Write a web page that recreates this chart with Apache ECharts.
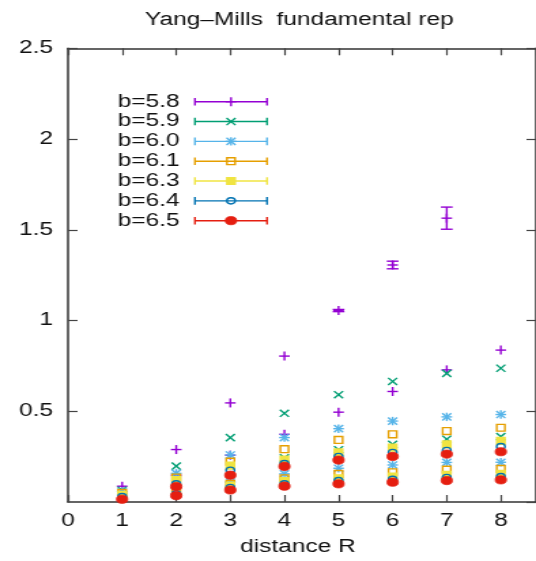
<!DOCTYPE html>
<html>
<head>
<meta charset="utf-8">
<script src="https://cdn.jsdelivr.net/npm/echarts@6/dist/echarts.min.js"></script>
<style>
  html, body { margin: 0; padding: 0; background: #fff; overflow: hidden; }
  #wrap { width: 536px; height: 561px; overflow: hidden; }
  /* the plot is laid out on a narrower canvas and widened, as in the original terminal output */
  #chart { width: 394px; height: 561px; transform: scaleX(1.3604); transform-origin: 0 0; }
</style>
</head>
<body>
<div id="wrap"><div id="chart"></div></div>
<script>
// ---- data: [R, V(R), error] per coupling ----
const betaLabels = ['b=5.8', 'b=5.9', 'b=6.0', 'b=6.1', 'b=6.3', 'b=6.4', 'b=6.5'];

const b58 = [[1, 0.087, 0], [2, 0.289, 0], [3, 0.546, 0], [4, 0.804, 0], [5, 1.055, 0.006], [6, 1.306, 0.021], [7, 1.564, 0.061],
             [2, 0.148, 0], [3, 0.258, 0], [4, 0.373, 0], [5, 0.495, 0], [6, 0.609, 0], [7, 0.728, 0], [8, 0.837, 0]];
const b59 = [[1, 0.065, 0], [2, 0.198, 0], [3, 0.355, 0], [4, 0.489, 0], [5, 0.591, 0], [6, 0.664, 0], [7, 0.709, 0], [8, 0.737, 0],
             [4, 0.243, 0], [5, 0.288, 0], [6, 0.318, 0], [7, 0.346, 0], [8, 0.360, 0]];
const b60 = [[1, 0.058, 0], [2, 0.158, 0], [3, 0.259, 0], [4, 0.355, 0], [5, 0.404, 0], [6, 0.446, 0], [7, 0.469, 0], [8, 0.482, 0],
             [3, 0.110, 0], [4, 0.155, 0], [5, 0.186, 0], [6, 0.204, 0], [7, 0.218, 0], [8, 0.219, 0]];
const b61 = [[1, 0.050, 0], [2, 0.135, 0], [3, 0.222, 0], [4, 0.291, 0], [5, 0.342, 0], [6, 0.373, 0], [7, 0.391, 0], [8, 0.409, 0],
             [2, 0.060, 0], [3, 0.100, 0], [4, 0.131, 0], [5, 0.155, 0], [6, 0.164, 0], [7, 0.178, 0], [8, 0.182, 0]];
const b63 = [[1, 0.040, 0], [2, 0.120, 0], [3, 0.200, 0], [4, 0.233, 0], [5, 0.273, 0], [6, 0.300, 0], [7, 0.318, 0], [8, 0.337, 0],
             [3, 0.090, 0], [4, 0.115, 0], [5, 0.131, 0], [6, 0.140, 0], [7, 0.150, 0], [8, 0.155, 0]];
const b64 = [[1, 0.030, 0], [2, 0.100, 0], [3, 0.175, 0], [4, 0.212, 0], [5, 0.251, 0], [6, 0.273, 0], [7, 0.284, 0], [8, 0.305, 0],
             [2, 0.045, 0], [3, 0.080, 0], [4, 0.100, 0], [5, 0.118, 0], [6, 0.125, 0], [7, 0.135, 0], [8, 0.140, 0]];
const b65 = [[1, 0.015, 0], [2, 0.085, 0], [3, 0.148, 0], [4, 0.196, 0], [5, 0.231, 0], [6, 0.251, 0], [7, 0.264, 0], [8, 0.277, 0],
             [2, 0.035, 0], [3, 0.066, 0], [4, 0.087, 0], [5, 0.100, 0], [6, 0.109, 0], [7, 0.118, 0], [8, 0.122, 0]];

const xTicks = [0, 1, 2, 3, 4, 5, 6, 7, 8];
const yTicks = [0.5, 1, 1.5, 2, 2.5];

// ---- styling ----
const seriesData = [b58, b59, b60, b61, b63, b64, b65];
const colors = ['#9400d3', '#009e73', '#56b4e9', '#e69f00', '#f0e442', '#0072b2', '#e51e10'];
const markers = ['plus', 'cross', 'star', 'openSquare', 'square', 'openCircle', 'circle'];
const FONT = '"Liberation Sans", Arial, Helvetica, sans-serif';
const LW = 1.4;

function seg(x1, y1, x2, y2, color) {
  return { type: 'line', shape: { x1, y1, x2, y2 }, style: { stroke: color, lineWidth: LW } };
}

// point symbol drawn around (cx, cy)
function markerShapes(kind, cx, cy, color) {
  switch (kind) {
    case 'plus':
      return [seg(cx - 3.9, cy, cx + 3.9, cy, color), seg(cx, cy - 4.5, cx, cy + 4.5, color)];
    case 'cross':
      return [seg(cx - 3.3, cy - 3.6, cx + 3.3, cy + 3.6, color), seg(cx - 3.3, cy + 3.6, cx + 3.3, cy - 3.6, color)];
    case 'star':
      return [seg(cx - 3.3, cy - 3.6, cx + 3.3, cy + 3.6, color), seg(cx - 3.3, cy + 3.6, cx + 3.3, cy - 3.6, color),
              seg(cx - 3.9, cy, cx + 3.9, cy, color), seg(cx, cy - 4.2, cx, cy + 4.2, color)];
    case 'openSquare':
      return [{ type: 'rect', shape: { x: cx - 3, y: cy - 3.4, width: 6, height: 6.8 },
                style: { fill: 'none', stroke: color, lineWidth: LW } }];
    case 'square':
      return [{ type: 'rect', shape: { x: cx - 3, y: cy - 3.4, width: 6, height: 6.8 },
                style: { fill: color, stroke: color, lineWidth: LW } }];
    case 'openCircle':
      return [{ type: 'circle', shape: { cx, cy, r: 3.1 }, style: { fill: 'none', stroke: color, lineWidth: LW } }];
    case 'circle':
      return [{ type: 'circle', shape: { cx, cy, r: 4.1 }, style: { fill: color, stroke: color, lineWidth: 0.8 } }];
  }
  return [];
}

function errorBarShapes(cx, yLo, yHi, color) {
  const cap = 4.3;
  return [seg(cx, yLo, cx, yHi, color), seg(cx - cap, yLo, cx + cap, yLo, color), seg(cx - cap, yHi, cx + cap, yHi, color)];
}

const series = seriesData.map((data, i) => ({
  type: 'custom',
  name: betaLabels[i],
  coordinateSystem: 'cartesian2d',
  data: data,
  encode: { x: 0, y: 1 },
  clip: false,
  z: 2 + i,
  renderItem: function (params, api) {
    const x = api.value(0), y = api.value(1), e = api.value(2);
    const p = api.coord([x, y]);
    let children = [];
    if (e > 0) {
      const lo = api.coord([x, y - e]), hi = api.coord([x, y + e]);
      children = children.concat(errorBarShapes(p[0], lo[1], hi[1], colors[i]));
    }
    children = children.concat(markerShapes(markers[i], p[0], p[1], colors[i]));
    return { type: 'group', children: children };
  }
}));

// key in the upper left: label, error-bar sample and point symbol
const keyElements = [];
betaLabels.forEach((label, i) => {
  const y = 101.7 + 19.83 * i;
  keyElements.push({
    type: 'text', x: 132, y: y,
    style: { text: label, align: 'right', verticalAlign: 'middle', fill: '#111', font: '18px ' + FONT }
  });
  keyElements.push(seg(143.3, y, 196.3, y, colors[i]));
  keyElements.push(seg(143.3, y - 3.8, 143.3, y + 3.8, colors[i]));
  keyElements.push(seg(196.3, y - 3.8, 196.3, y + 3.8, colors[i]));
  markerShapes(markers[i], 169.8, y, colors[i]).forEach(s => keyElements.push(s));
});

// border lines and inward ticks on all four sides
function axisLine() {
  return { show: true, onZero: false, lineStyle: { color: '#333', width: 1.5 } };
}
function axisTick() {
  return { show: true, inside: true, length: 7, lineStyle: { color: '#444', width: 1.2 } };
}

const option = {
  animation: false,
  backgroundColor: '#fff',
  title: {
    text: 'Yang\u2013Mills  fundamental rep',
    left: 220, top: 11, padding: 0, textAlign: 'center',
    textStyle: { fontFamily: FONT, fontSize: 18, fontWeight: 'normal', color: '#111' }
  },
  grid: { left: 50, top: 48.3, width: 346, height: 458.4, containLabel: false },
  xAxis: [
    {
      type: 'value', min: 0, max: 8.65, interval: 1, position: 'bottom',
      axisLine: axisLine(),
      axisTick: axisTick(),
      splitLine: { show: false },
      axisLabel: {
        show: true, margin: 10, showMaxLabel: false,
        fontFamily: FONT, fontSize: 18, color: '#111',
        formatter: v => (xTicks.indexOf(v) >= 0 ? String(v) : '')
      },
      name: 'distance R', nameLocation: 'middle', nameGap: 36,
      nameTextStyle: { fontFamily: FONT, fontSize: 18, color: '#111', padding: [0, 6, 0, 0] }
    },
    {
      type: 'value', min: 0, max: 8.65, interval: 1, position: 'top',
      axisLine: axisLine(),
      axisTick: axisTick(),
      axisLabel: { show: false },
      splitLine: { show: false }
    }
  ],
  yAxis: [
    {
      type: 'value', min: 0, max: 2.5, interval: 0.5, position: 'left',
      axisLine: axisLine(),
      axisTick: axisTick(),
      splitLine: { show: false },
      axisLabel: {
        show: true, margin: 11, showMinLabel: false,
        fontFamily: FONT, fontSize: 18, color: '#111',
        formatter: v => (yTicks.indexOf(v) >= 0 ? String(v) : '')
      }
    },
    {
      type: 'value', min: 0, max: 2.5, interval: 0.5, position: 'right',
      axisLine: axisLine(),
      axisTick: axisTick(),
      axisLabel: { show: false },
      splitLine: { show: false }
    }
  ],
  graphic: [{ type: 'group', children: keyElements, z: 20 }],
  series: series
};

const chart = echarts.init(document.getElementById('chart'), null, { renderer: 'canvas' });
chart.setOption(option);
</script>
</body>
</html>
